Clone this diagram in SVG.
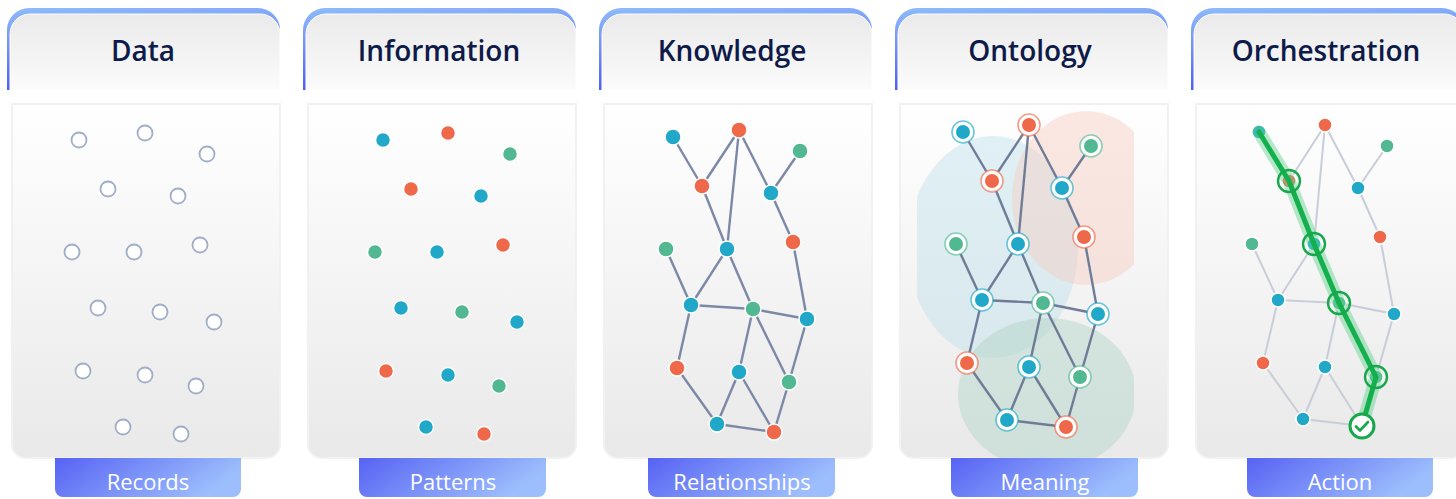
<svg xmlns="http://www.w3.org/2000/svg" width="1456" height="499" viewBox="0 0 1456 499">
<defs>
<linearGradient id="hb" x1="0" y1="0" x2="0.15" y2="1"><stop offset="0" stop-color="#8fbbfa"/><stop offset="1" stop-color="#4d5df0"/></linearGradient>
<linearGradient id="hf" x1="0" y1="0" x2="0" y2="1"><stop offset="0" stop-color="#eaeaea"/><stop offset="1" stop-color="#fbfbfb"/></linearGradient>
<linearGradient id="pf" x1="0" y1="0" x2="0" y2="1"><stop offset="0" stop-color="#ffffff"/><stop offset="1" stop-color="#e9e9e9"/></linearGradient>
<linearGradient id="lf" x1="0" y1="0" x2="1" y2="0.3"><stop offset="0" stop-color="#5762f4"/><stop offset="1" stop-color="#9cbefc"/></linearGradient>
<clipPath id="oc"><rect x="917" y="100" width="217" height="380"/></clipPath>
<style>
.hb{fill:url(#hb)}
.hf{fill:url(#hf);stroke:#ffffff;stroke-width:1}
.pn{fill:url(#pf);stroke:#f1f1f1;stroke-width:2}
.lb{fill:url(#lf)}
.ht{font-family:"Open Sans","Liberation Sans",sans-serif;font-weight:600;font-size:28px;fill:#0e1a48;text-anchor:middle}
.lt{font-family:"Open Sans","Liberation Sans",sans-serif;font-weight:500;font-size:22px;fill:#ffffff;text-anchor:middle}
.rc{fill:#ffffff;stroke:#a0aec8;stroke-width:1.8}
.b{fill:#21a8c8}
.o{fill:#f0684a}
.g{fill:#52b891}
.d{stroke:#ffffff;stroke-width:1.5}
.ke line{stroke:#7b88a6;stroke-width:2.4}
.oe line{stroke:#6e7c98;stroke-width:2.4}
.re line{stroke:#c9cdd9;stroke-width:2}
.hb1{fill:#ffffff;stroke:#21a8c8;stroke-opacity:0.65;stroke-width:1.6}
.ho1{fill:#ffffff;stroke:#f0684a;stroke-opacity:0.65;stroke-width:1.6}
.hg1{fill:#ffffff;stroke:#52b891;stroke-opacity:0.65;stroke-width:1.6}
.ring{fill:none;stroke:#17a84c;stroke-width:2.4}
</style>
</defs>

<g id="panel-data">
<path class="hb" d="M7 90 V30 A22 22 0 0 1 29 8 H258 A22 22 0 0 1 280 30 V90 Z"/>
<path class="hf" d="M10 90 V34 A20 20 0 0 1 30 14 H260 A20 20 0 0 1 280 34 V90 Z"/>
<text class="ht" x="143" y="61">Data</text>
<path class="pn" d="M12 104 H280 V444 A14 14 0 0 1 266 458 H26 A14 14 0 0 1 12 444 Z"/>
<g>
<circle class="rc" cx="79" cy="140" r="7.5"/><circle class="rc" cx="145" cy="133" r="7.5"/><circle class="rc" cx="207" cy="154" r="7.5"/>
<circle class="rc" cx="108" cy="189" r="7.5"/><circle class="rc" cx="178" cy="196" r="7.5"/>
<circle class="rc" cx="72" cy="252" r="7.5"/><circle class="rc" cx="134" cy="252" r="7.5"/><circle class="rc" cx="200" cy="245" r="7.5"/>
<circle class="rc" cx="98" cy="308" r="7.5"/><circle class="rc" cx="160" cy="312" r="7.5"/><circle class="rc" cx="214" cy="322" r="7.5"/>
<circle class="rc" cx="83" cy="371" r="7.5"/><circle class="rc" cx="145" cy="375" r="7.5"/><circle class="rc" cx="196" cy="386" r="7.5"/>
<circle class="rc" cx="123" cy="427" r="7.5"/><circle class="rc" cx="181" cy="434" r="7.5"/>
</g>
<path class="lb" d="M55 458 H241 V489 A8 8 0 0 1 233 497 H63 A8 8 0 0 1 55 489 Z"/>
<text class="lt" x="148" y="490">Records</text>
</g>

<g id="panel-information">
<path class="hb" d="M303 90 V30 A22 22 0 0 1 325 8 H554 A22 22 0 0 1 576 30 V90 Z"/>
<path class="hf" d="M306 90 V34 A20 20 0 0 1 326 14 H556 A20 20 0 0 1 576 34 V90 Z"/>
<text class="ht" x="439" y="61">Information</text>
<path class="pn" d="M308 104 H576 V444 A14 14 0 0 1 562 458 H322 A14 14 0 0 1 308 444 Z"/>
<g class="d">
<circle class="b" cx="383" cy="140" r="7.5"/><circle class="o" cx="448" cy="133" r="7.5"/><circle class="g" cx="510" cy="154" r="7.5"/>
<circle class="o" cx="411" cy="189" r="7.5"/><circle class="b" cx="481" cy="196" r="7.5"/>
<circle class="g" cx="375" cy="252" r="7.5"/><circle class="b" cx="437" cy="252" r="7.5"/><circle class="o" cx="503" cy="245" r="7.5"/>
<circle class="b" cx="401" cy="308" r="7.5"/><circle class="g" cx="462" cy="312" r="7.5"/><circle class="b" cx="517" cy="322" r="7.5"/>
<circle class="o" cx="386" cy="371" r="7.5"/><circle class="b" cx="448" cy="375" r="7.5"/><circle class="g" cx="499" cy="386" r="7.5"/>
<circle class="b" cx="426" cy="427" r="7.5"/><circle class="o" cx="484" cy="434" r="7.5"/>
</g>
<path class="lb" d="M359 458 H546 V489 A8 8 0 0 1 538 497 H367 A8 8 0 0 1 359 489 Z"/>
<text class="lt" x="453" y="490">Patterns</text>
</g>

<g id="panel-knowledge">
<path class="hb" d="M599 90 V30 A22 22 0 0 1 621 8 H850 A22 22 0 0 1 872 30 V90 Z"/>
<path class="hf" d="M602 90 V34 A20 20 0 0 1 622 14 H852 A20 20 0 0 1 872 34 V90 Z"/>
<text class="ht" x="732" y="61">Knowledge</text>
<path class="pn" d="M604 104 H872 V444 A14 14 0 0 1 858 458 H618 A14 14 0 0 1 604 444 Z"/>
<g class="ke">
<line x1="673" y1="137" x2="702" y2="186"/><line x1="739" y1="130" x2="702" y2="186"/><line x1="739" y1="130" x2="727" y2="249"/><line x1="739" y1="130" x2="771" y2="193"/>
<line x1="800" y1="151" x2="771" y2="193"/><line x1="702" y1="186" x2="727" y2="249"/><line x1="771" y1="193" x2="793" y2="242"/><line x1="666" y1="249" x2="691" y2="305"/>
<line x1="727" y1="249" x2="691" y2="305"/><line x1="727" y1="249" x2="753" y2="309"/><line x1="793" y1="242" x2="807" y2="319"/><line x1="691" y1="305" x2="753" y2="309"/>
<line x1="753" y1="309" x2="807" y2="319"/><line x1="691" y1="305" x2="677" y2="368"/><line x1="753" y1="309" x2="739" y2="372"/><line x1="753" y1="309" x2="789" y2="382"/>
<line x1="807" y1="319" x2="789" y2="382"/><line x1="677" y1="368" x2="717" y2="424"/><line x1="739" y1="372" x2="717" y2="424"/><line x1="739" y1="372" x2="774" y2="432"/>
<line x1="789" y1="382" x2="774" y2="432"/><line x1="717" y1="424" x2="774" y2="432"/>
</g>
<g class="d">
<circle class="b" cx="673" cy="137" r="8"/><circle class="o" cx="739" cy="130" r="8"/><circle class="g" cx="800" cy="151" r="8"/>
<circle class="o" cx="702" cy="186" r="8"/><circle class="b" cx="771" cy="193" r="8"/>
<circle class="g" cx="666" cy="249" r="8"/><circle class="b" cx="727" cy="249" r="8"/><circle class="o" cx="793" cy="242" r="8"/>
<circle class="b" cx="691" cy="305" r="8"/><circle class="g" cx="753" cy="309" r="8"/><circle class="b" cx="807" cy="319" r="8"/>
<circle class="o" cx="677" cy="368" r="8"/><circle class="b" cx="739" cy="372" r="8"/><circle class="g" cx="789" cy="382" r="8"/>
<circle class="b" cx="717" cy="424" r="8"/><circle class="o" cx="774" cy="432" r="8"/>
</g>
<path class="lb" d="M648 458 H835 V489 A8 8 0 0 1 827 497 H656 A8 8 0 0 1 648 489 Z"/>
<text class="lt" x="742" y="490">Relationships</text>
</g>

<g id="panel-ontology">
<path class="hb" d="M895 90 V30 A22 22 0 0 1 917 8 H1146 A22 22 0 0 1 1168 30 V90 Z"/>
<path class="hf" d="M898 90 V34 A20 20 0 0 1 918 14 H1148 A20 20 0 0 1 1168 34 V90 Z"/>
<text class="ht" x="1030" y="61">Ontology</text>
<path class="pn" d="M900 104 H1168 V444 A14 14 0 0 1 1154 458 H914 A14 14 0 0 1 900 444 Z"/>
<g clip-path="url(#oc)">
<ellipse cx="993" cy="247" rx="85" ry="111" fill="#bcdfe9" fill-opacity="0.45"/>
<ellipse cx="1086" cy="198" rx="74" ry="87" fill="#f6cbc1" fill-opacity="0.45"/>
<ellipse cx="1047" cy="394" rx="89" ry="76" fill="#b6d6c9" fill-opacity="0.5"/>
</g>
<g class="oe">
<line x1="963" y1="132" x2="992" y2="181"/><line x1="1029" y1="125" x2="992" y2="181"/><line x1="1029" y1="125" x2="1018" y2="244"/><line x1="1029" y1="125" x2="1062" y2="188"/>
<line x1="1091" y1="146" x2="1062" y2="188"/><line x1="992" y1="181" x2="1018" y2="244"/><line x1="1062" y1="188" x2="1084" y2="237"/><line x1="956" y1="244" x2="982" y2="300"/>
<line x1="1018" y1="244" x2="982" y2="300"/><line x1="1018" y1="244" x2="1043" y2="303"/><line x1="1084" y1="237" x2="1098" y2="314"/><line x1="982" y1="300" x2="1043" y2="303"/>
<line x1="1043" y1="303" x2="1098" y2="314"/><line x1="982" y1="300" x2="967" y2="363"/><line x1="1043" y1="303" x2="1029" y2="367"/><line x1="1043" y1="303" x2="1080" y2="377"/>
<line x1="1098" y1="314" x2="1080" y2="377"/><line x1="967" y1="363" x2="1007" y2="420"/><line x1="1029" y1="367" x2="1007" y2="420"/><line x1="1029" y1="367" x2="1066" y2="427"/>
<line x1="1080" y1="377" x2="1066" y2="427"/><line x1="1007" y1="420" x2="1066" y2="427"/>
</g>
<g>
<circle class="hb1" cx="963" cy="132" r="11"/><circle class="ho1" cx="1029" cy="125" r="11"/><circle class="hg1" cx="1091" cy="146" r="11"/>
<circle class="ho1" cx="992" cy="181" r="11"/><circle class="hb1" cx="1062" cy="188" r="11"/>
<circle class="hg1" cx="956" cy="244" r="11"/><circle class="hb1" cx="1018" cy="244" r="11"/><circle class="ho1" cx="1084" cy="237" r="11"/>
<circle class="hb1" cx="982" cy="300" r="11"/><circle class="hg1" cx="1043" cy="303" r="11"/><circle class="hb1" cx="1098" cy="314" r="11"/>
<circle class="ho1" cx="967" cy="363" r="11"/><circle class="hb1" cx="1029" cy="367" r="11"/><circle class="hg1" cx="1080" cy="377" r="11"/>
<circle class="hb1" cx="1007" cy="420" r="11"/><circle class="ho1" cx="1066" cy="427" r="11"/>
</g>
<g>
<circle class="b" cx="963" cy="132" r="7"/><circle class="o" cx="1029" cy="125" r="7"/><circle class="g" cx="1091" cy="146" r="7"/>
<circle class="o" cx="992" cy="181" r="7"/><circle class="b" cx="1062" cy="188" r="7"/>
<circle class="g" cx="956" cy="244" r="7"/><circle class="b" cx="1018" cy="244" r="7"/><circle class="o" cx="1084" cy="237" r="7"/>
<circle class="b" cx="982" cy="300" r="7"/><circle class="g" cx="1043" cy="303" r="7"/><circle class="b" cx="1098" cy="314" r="7"/>
<circle class="o" cx="967" cy="363" r="7"/><circle class="b" cx="1029" cy="367" r="7"/><circle class="g" cx="1080" cy="377" r="7"/>
<circle class="b" cx="1007" cy="420" r="7"/><circle class="o" cx="1066" cy="427" r="7"/>
</g>
<path class="lb" d="M951 458 H1138 V489 A8 8 0 0 1 1130 497 H959 A8 8 0 0 1 951 489 Z"/>
<text class="lt" x="1045" y="490">Meaning</text>
</g>

<g id="panel-orchestration">
<path class="hb" d="M1191 90 V30 A22 22 0 0 1 1213 8 H1442 A22 22 0 0 1 1464 30 V90 Z"/>
<path class="hf" d="M1194 90 V34 A20 20 0 0 1 1214 14 H1444 A20 20 0 0 1 1464 34 V90 Z"/>
<text class="ht" x="1326" y="61">Orchestration</text>
<path class="pn" d="M1196 104 H1464 V444 A14 14 0 0 1 1450 458 H1210 A14 14 0 0 1 1196 444 Z"/>
<g class="re">
<line x1="1259" y1="132" x2="1289" y2="181"/><line x1="1325" y1="125" x2="1289" y2="181"/><line x1="1325" y1="125" x2="1314" y2="244"/><line x1="1325" y1="125" x2="1358" y2="188"/>
<line x1="1387" y1="146" x2="1358" y2="188"/><line x1="1289" y1="181" x2="1314" y2="244"/><line x1="1358" y1="188" x2="1380" y2="237"/><line x1="1252" y1="244" x2="1278" y2="300"/>
<line x1="1314" y1="244" x2="1278" y2="300"/><line x1="1314" y1="244" x2="1339" y2="303"/><line x1="1380" y1="237" x2="1394" y2="314"/><line x1="1278" y1="300" x2="1339" y2="303"/>
<line x1="1339" y1="303" x2="1394" y2="314"/><line x1="1278" y1="300" x2="1263" y2="363"/><line x1="1339" y1="303" x2="1325" y2="367"/><line x1="1339" y1="303" x2="1376" y2="377"/>
<line x1="1394" y1="314" x2="1376" y2="377"/><line x1="1263" y1="363" x2="1303" y2="419"/><line x1="1325" y1="367" x2="1303" y2="419"/><line x1="1325" y1="367" x2="1362" y2="426"/>
<line x1="1376" y1="377" x2="1362" y2="426"/><line x1="1303" y1="419" x2="1362" y2="426"/>
</g>
<g class="d">
<circle class="b" cx="1259" cy="132" r="7"/><circle class="o" cx="1325" cy="125" r="7"/><circle class="g" cx="1387" cy="146" r="7"/>
<circle class="o" cx="1289" cy="181" r="7"/><circle class="b" cx="1358" cy="188" r="7"/>
<circle class="g" cx="1252" cy="244" r="7"/><circle class="b" cx="1314" cy="244" r="7"/><circle class="o" cx="1380" cy="237" r="7"/>
<circle class="b" cx="1278" cy="300" r="7"/><circle class="g" cx="1339" cy="303" r="7"/><circle class="b" cx="1394" cy="314" r="7"/>
<circle class="o" cx="1263" cy="363" r="7"/><circle class="b" cx="1325" cy="367" r="7"/><circle class="g" cx="1376" cy="377" r="7"/>
<circle class="b" cx="1303" cy="419" r="7"/>
</g>
<polyline points="1259,132 1289,181 1314,244 1339,303 1376,377 1362,426" fill="none" stroke="#5fd08c" stroke-opacity="0.45" stroke-width="13" stroke-linecap="round" stroke-linejoin="round"/>
<polyline points="1259,132 1289,181 1314,244 1339,303 1376,377 1362,426" fill="none" stroke="#14b04e" stroke-width="5" stroke-linecap="round" stroke-linejoin="round"/>
<circle class="ring" cx="1289" cy="181" r="11"/>
<circle class="ring" cx="1314" cy="244" r="11"/>
<circle class="ring" cx="1339" cy="303" r="11"/>
<circle class="ring" cx="1376" cy="377" r="11"/>
<circle cx="1362" cy="426" r="12" fill="#ffffff" stroke="#17a84c" stroke-width="3"/>
<path d="M1356 426.5 L1360 430.5 L1368 422" fill="none" stroke="#17a84c" stroke-width="2.6" stroke-linecap="round" stroke-linejoin="round"/>
<path class="lb" d="M1247 458 H1433 V489 A8 8 0 0 1 1425 497 H1255 A8 8 0 0 1 1247 489 Z"/>
<text class="lt" x="1340" y="490">Action</text>
</g>
</svg>
